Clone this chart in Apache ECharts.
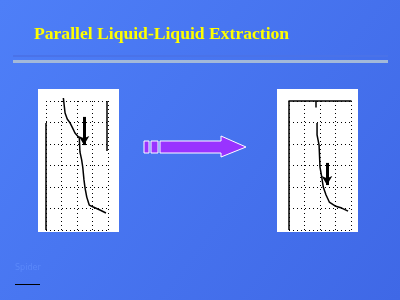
<!DOCTYPE html>
<html><head><meta charset="utf-8">
<script src="https://cdn.jsdelivr.net/npm/echarts@6/dist/echarts.min.js"></script>
<style>html,body{margin:0;padding:0;}#c{width:400px;height:300px;}</style>
</head><body><div id="c"></div>
<script>
// Titles
var titleText = 'Parallel Liquid-Liquid Extraction';
var footerText = 'Spider';
// Axis ticks (grid units)
var xTicks = [0, 1, 2, 3, 4];
var yTicks = [0, 1, 2, 3, 4, 5, 6];
// Left chart: single extraction trace
var leftX = [1.12, 1.23, 1.37, 1.55, 1.72, 1.87, 1.98, 2.15, 2.19, 2.30, 2.37, 2.45, 2.52, 2.63, 2.79, 3.05, 3.48, 3.87];
var leftY = [6.14, 5.44, 5.16, 4.98, 4.74, 4.51, 4.42, 4.28, 3.63, 3.26, 2.93, 2.33, 1.95, 1.53, 1.16, 1.07, 0.93, 0.79];
// Right chart: parallel extraction trace
var rightX = [1.81, 1.81, 1.94, 2.00, 2.11, 2.21, 2.39, 2.60, 2.97, 3.40, 3.81];
var rightY = [4.98, 4.42, 3.95, 2.93, 2.47, 2.00, 1.63, 1.30, 1.12, 1.02, 0.88];
// Arrow markers [x, yStart, yEnd]
var leftArrow = [2.45, 5.26, 3.95];
var rightArrow = [2.45, 3.12, 2.09];
// Frame segments [x1, y1, x2, y2]
var leftFrame = [[0, 4.98, 0, 0], [3.95, 6.0, 3.95, 3.67]];
var rightFrame = [[0, 6.0, 0, 0], [1.75, 6.0, 1.75, 5.7]];

function pairs(xs, ys){ return xs.map(function(x,i){ return [x, ys[i]]; }); }

var chart = echarts.init(document.getElementById('c'), null, {renderer:'canvas'});
var dotted = {show:true, lineStyle:{color:'#000', width:1, type:[1,3]}};
function xAx(idx, top){
  return {type:'value', gridIndex:idx, min:0, max:4, interval:1, position: top?'top':'bottom',
    axisLine:{show:!!top, onZero:false, lineStyle:{color:'#000', width:1.5}}, axisTick:{show:false}, axisLabel:{show:false},
    splitLine: dotted};
}
function yAx(idx){
  return {type:'value', gridIndex:idx, min:0, max:6, interval:1,
    axisLine:{show:false}, axisTick:{show:false}, axisLabel:{show:false},
    splitLine: dotted};
}
function arrowLine(a){
  return {silent:true, symbol:['none','arrow'], symbolSize:[8,9], label:{show:false},
    lineStyle:{color:'#000', width:3, type:'solid'},
    data:[[{coord:[a[0], a[1]]},{coord:[a[0], a[2]]}]]};
}
function frameLine(segs){
  return {silent:true, symbol:['none','none'], label:{show:false},
    lineStyle:{color:'#000', width:1.5, type:'solid'},
    data: segs.map(function(s){ return [{coord:[s[0], s[1]]},{coord:[s[2], s[3]]}]; })};
}
chart.setOption({
  animation:false,
  backgroundColor:{type:'linear', x:0, y:0, x2:1, y2:1,
    colorStops:[{offset:0,color:'#4e7ff8'},{offset:1,color:'#3f68e6'}]},
  graphic:[
    {type:'rect', shape:{x:13,y:55,width:375,height:2}, style:{fill:'#4a72e8'}, z:1},
    {type:'rect', shape:{x:13,y:60,width:375,height:3}, style:{fill:'#a3b9d9'}, z:1},
    {type:'text', left:34, top:25, style:{text:titleText, fill:'#ffff00',
      font:'bold 17.6px "Liberation Serif", serif', textShadowColor:'#000', textShadowOffsetX:1, textShadowOffsetY:1, textShadowBlur:0}, z:5},
    {type:'rect', shape:{x:38,y:89,width:81,height:143}, style:{fill:'#fff'}, z:0},
    {type:'rect', shape:{x:277,y:89,width:81,height:143}, style:{fill:'#fff'}, z:0},
    {type:'rect', shape:{x:144,y:141,width:5,height:12}, style:{fill:'#9933ff', stroke:'#fff', lineWidth:1}, z:3},
    {type:'rect', shape:{x:151,y:141,width:7,height:12}, style:{fill:'#9933ff', stroke:'#fff', lineWidth:1}, z:3},
    {type:'polygon', shape:{points:[[160,141],[221,141],[221,136],[246,147],[221,157],[221,153],[160,153]]},
      style:{fill:'#9933ff', stroke:'#fff', lineWidth:1}, z:3},
    {type:'text', left:15, top:264, style:{text:footerText, fill:'#5a88fa', font:'8px "DejaVu Sans", sans-serif'}, z:3},
    {type:'rect', shape:{x:15,y:284,width:25,height:1}, style:{fill:'#000'}, z:3}
  ],
  grid:[
    {left:46, top:101, width:62, height:129, show:false},
    {left:289, top:101, width:62, height:129, show:false}
  ],
  xAxis:[xAx(0,false), xAx(1,true)],
  yAxis:[yAx(0), yAx(1)],
  series:[
    {type:'line', xAxisIndex:0, yAxisIndex:0, data:pairs(leftX,leftY), showSymbol:false, clip:false,
      lineStyle:{color:'#000', width:1.5}, markLine: arrowLine(leftArrow)},
    {type:'line', xAxisIndex:1, yAxisIndex:1, data:pairs(rightX,rightY), showSymbol:false, clip:false,
      lineStyle:{color:'#000', width:1.5}, markLine: arrowLine(rightArrow)},
    {type:'line', xAxisIndex:0, yAxisIndex:0, data:[[0,0]], showSymbol:false, clip:false, lineStyle:{opacity:0}, markLine: frameLine(leftFrame)},
    {type:'line', xAxisIndex:1, yAxisIndex:1, data:[[0,0]], showSymbol:false, clip:false, lineStyle:{opacity:0}, markLine: frameLine(rightFrame)}
  ]
});
</script></body></html>
